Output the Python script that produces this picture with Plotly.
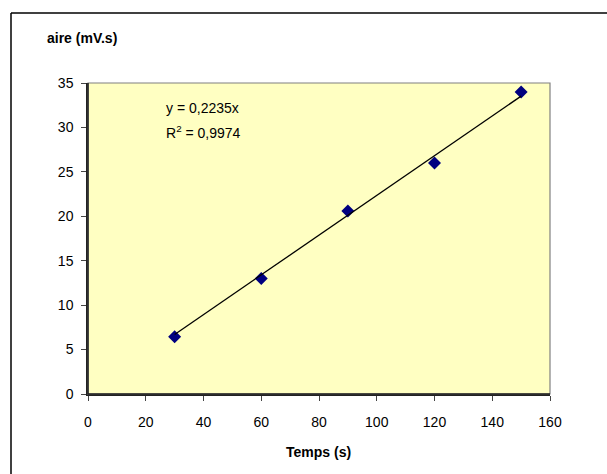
import plotly.graph_objects as go

temps = [30, 60, 90, 120, 150]
aire = [6.45, 13.0, 20.6, 26.0, 34.0]
slope = 0.2235
r2_text = "0,9974"
x_ticks = [0, 20, 40, 60, 80, 100, 120, 140, 160]
y_ticks = [0, 5, 10, 15, 20, 25, 30, 35]

W, H = 607, 474
L, R, T, B = 88, 57, 83, 80
pw, ph = W - L - R, H - T - B

def px(x):
    return (x - L) / pw

def py(y):
    return (H - B - y) / ph

fig = go.Figure()
fig.add_trace(go.Scatter(
    x=temps, y=aire, mode="markers",
    marker=dict(symbol="diamond", size=10, color="#000080"),
    showlegend=False, cliponaxis=False))
trend_x = [min(temps), max(temps)]
fig.add_trace(go.Scatter(
    x=trend_x, y=[slope * v for v in trend_x], mode="lines",
    line=dict(color="black", width=1.3), showlegend=False))

font_family = "Liberation Sans, Arial, sans-serif"
fig.update_layout(
    width=W, height=H,
    margin=dict(l=L, r=R, t=T, b=B, pad=0),
    paper_bgcolor="white", plot_bgcolor="#FFFFC2",
    font=dict(family=font_family, size=14, color="black"),
    xaxis=dict(range=[0, 160], tickvals=x_ticks, showgrid=False, zeroline=False,
               showline=True, linecolor="#222222", linewidth=1.5, mirror=False,
               ticks="outside", ticklen=5, tickcolor="#444444",
               ticklabelstandoff=9,
               tickfont=dict(size=14, family=font_family)),
    yaxis=dict(range=[0, 35], tickvals=y_ticks, showgrid=False, zeroline=False,
               showline=True, linecolor="#222222", linewidth=1.5, mirror=False,
               ticks="outside", ticklen=5, tickcolor="#444444",
               ticklabelstandoff=5,
               tickfont=dict(size=14, family=font_family)),
    shapes=[
        dict(type="rect", xref="paper", yref="paper", x0=0, x1=1, y0=0, y1=1,
             line=dict(color="#808080", width=1.2), layer="above"),
        dict(type="line", xref="paper", yref="paper", x0=0, x1=1, y0=0, y1=0,
             line=dict(color="#222222", width=1.5), layer="above"),
        dict(type="line", xref="paper", yref="paper", x0=0, x1=0, y0=0, y1=1,
             line=dict(color="#222222", width=1.5), layer="above"),
        dict(type="line", xref="paper", yref="paper",
             x0=px(11), x1=px(607), y0=py(13), y1=py(13),
             line=dict(color="black", width=1.5)),
        dict(type="line", xref="paper", yref="paper",
             x0=px(11), x1=px(11), y0=py(13), y1=py(474),
             line=dict(color="black", width=1.5)),
    ],
    annotations=[
        dict(text="<b>aire (mV.s)</b>", xref="paper", yref="paper",
             x=px(45), y=py(38), xanchor="left", yanchor="middle",
             showarrow=False, font=dict(size=14)),
        dict(text="<b>Temps (s)</b>", xref="paper", yref="paper",
             x=px(318), y=py(452), xanchor="center", yanchor="middle",
             showarrow=False, font=dict(size=14)),
        dict(text="y = 0,2235x", xref="paper", yref="paper",
             x=px(164), y=py(108), xanchor="left", yanchor="middle",
             showarrow=False, font=dict(size=14)),
        dict(text="R<sup>2</sup> = " + r2_text, xref="paper", yref="paper",
             x=px(164), y=py(132), xanchor="left", yanchor="middle",
             showarrow=False, font=dict(size=14)),
    ],
)
fig.write_html("out.html")
